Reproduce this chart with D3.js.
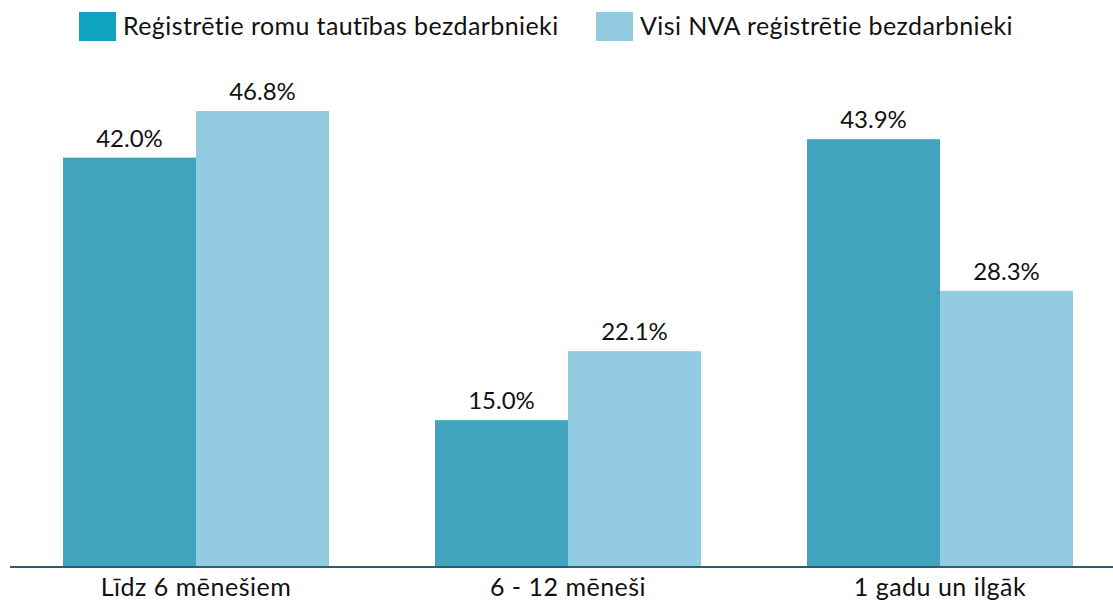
<!DOCTYPE html>
<meta charset="utf-8">
<script src="https://d3js.org/d3.v7.min.js"></script>
<style>
  body { margin: 0; background: #fff; }
  text { font-family: Lato, "Open Sans", sans-serif; fill: #111; }
</style>
<div id="my_dataviz"></div>
<script>
  // data
  var categories = ["Līdz 6 mēnešiem", "6 - 12 mēneši", "1 gadu un ilgāk"];
  var seriesNames = ["Reģistrētie romu tautības bezdarbnieki", "Visi NVA reģistrētie bezdarbnieki"];
  var romaValues = [42.0, 15.0, 43.9];
  var allValues = [46.8, 22.1, 28.3];

  var barColors = ["#41a4bf", "#93cbe0"];
  var legendColors = ["#0fa3bf", "#93cbe0"];

  var width = 1113, height = 602;
  var baseline = 566;

  var svg = d3.select("#my_dataviz")
    .append("svg")
    .attr("width", width)
    .attr("height", height);

  var x = d3.scaleBand()
    .domain(categories)
    .range([10, 1126])
    .paddingInner(0.285)
    .paddingOuter(0.1425);

  var xSub = d3.scaleBand()
    .domain([0, 1])
    .range([0, x.bandwidth()]);

  var y = d3.scaleLinear()
    .domain([0, 46.8])
    .range([baseline, 111]);

  var rows = categories.map(function (c, i) {
    return { cat: c, vals: [romaValues[i], allValues[i]] };
  });

  var groups = svg.selectAll(".grp")
    .data(rows)
    .enter().append("g")
    .attr("class", "grp")
    .attr("transform", function (d) { return "translate(" + x(d.cat) + ",0)"; });

  groups.selectAll("rect")
    .data(function (d) { return d.vals; })
    .enter().append("rect")
    .attr("x", function (d, i) { return xSub(i); })
    .attr("y", function (d) { return y(d); })
    .attr("width", xSub.bandwidth())
    .attr("height", function (d) { return baseline - y(d); })
    .attr("fill", function (d, i) { return barColors[i]; });

  groups.selectAll(".val")
    .data(function (d) { return d.vals; })
    .enter().append("text")
    .attr("class", "val")
    .attr("x", function (d, i) { return xSub(i) + xSub.bandwidth() / 2; })
    .attr("y", function (d) { return y(d) - 11; })
    .attr("text-anchor", "middle")
    .style("font-size", "24px")
    .text(function (d) { return d.toFixed(1) + "%"; });

  // x axis line + category labels
  var xAxis = svg.append("g")
    .attr("transform", "translate(0," + (baseline + 1) + ")")
    .call(d3.axisBottom(x).tickSize(0));
  xAxis.select(".domain")
    .attr("d", "M10,0H1113")
    .attr("stroke", "#2d5e6b")
    .attr("stroke-width", 2);
  xAxis.selectAll(".tick text")
    .attr("y", 29)
    .attr("dy", null)
    .style("font-size", "25px")
    .style("letter-spacing", "0.5px")
    .style("font-family", "Lato, 'Open Sans', sans-serif")
    .attr("fill", "#111");

  // legend
  var legendX = [79, 596];
  var legend = svg.selectAll(".leg")
    .data(seriesNames)
    .enter().append("g")
    .attr("class", "leg")
    .attr("transform", function (d, i) { return "translate(" + legendX[i] + ",12)"; });
  legend.append("rect")
    .attr("width", 37)
    .attr("height", 29)
    .attr("fill", function (d, i) { return legendColors[i]; });
  legend.append("text")
    .attr("x", 44)
    .attr("y", 23)
    .style("font-size", "25px")
    .style("letter-spacing", "0.4px")
    .text(function (d) { return d; });
</script>
